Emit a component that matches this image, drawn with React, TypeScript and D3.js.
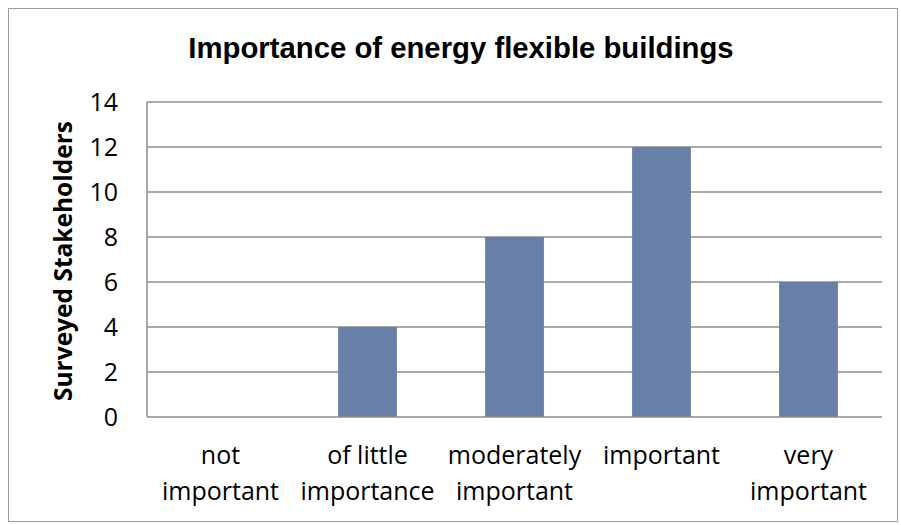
import React from "react";
import * as d3 from "d3";

const categories = ["not important", "of little importance", "moderately important", "important", "very important"];
const labelLines = [["not", "important"], ["of little", "importance"], ["moderately", "important"], ["important"], ["very", "important"]];
const counts = [0, 4, 8, 12, 6];
const yTicks = [0, 2, 4, 6, 8, 10, 12, 14];

const W = 901;
const H = 525;
const left = 147;
const right = 882;
const top = 102;
const bottom = 417;

export default function App() {
    const x = d3.scaleBand().domain(categories).range([left, right]).paddingInner(0.6).paddingOuter(0.3);
    const y = d3.scaleLinear().domain([0, 14]).range([bottom, top]);
    const tickFont = "'Open Sans', Lato, sans-serif";

    return (
        <svg width={W} height={H} style={{ position: "absolute", left: 0, top: 0, background: "#fff" }}>
            <rect x={8.5} y={8.5} width={889} height={513} fill="#fff" stroke="#9a9a9a" strokeWidth={1} />
            <text x={461} y={58} textAnchor="middle" fontFamily="'Liberation Sans', Arial, sans-serif" fontWeight="bold" fontSize={29.3} fill="#000">
                Importance of energy flexible buildings
            </text>
            {yTicks.map(t => (
                <g key={t}>
                    {t > 0 && <line x1={left} x2={right} y1={y(t)} y2={y(t)} stroke="#8c8c8c" strokeWidth={1.5} />}
                    <text x={118} y={y(t)} dy="0.36em" textAnchor="end" fontFamily={tickFont} fontSize={25} fill="#000">
                        {t}
                    </text>
                </g>
            ))}
            {categories.map((c, i) => (
                <rect key={c} x={x(c)} y={y(counts[i])} width={x.bandwidth()} height={bottom - y(counts[i])} fill="#687fa8" />
            ))}
            <line x1={left} x2={left} y1={top} y2={bottom} stroke="#8c8c8c" strokeWidth={1.5} />
            <line x1={left} x2={right} y1={bottom} y2={bottom} stroke="#8c8c8c" strokeWidth={1.5} />
            {categories.map((c, i) => (
                <text key={c} x={(x(c) as number) + x.bandwidth() / 2} textAnchor="middle" fontFamily={tickFont} fontSize={25} fill="#000">
                    {labelLines[i].map((l, j) => (
                        <tspan key={j} x={(x(c) as number) + x.bandwidth() / 2} y={464 + j * 36}>
                            {l}
                        </tspan>
                    ))}
                </text>
            ))}
            <text transform={`translate(72, 261) rotate(-90)`} textAnchor="middle" fontFamily={tickFont} fontWeight="bold" fontSize={24.5} fill="#000">
                Surveyed Stakeholders
            </text>
        </svg>
    );
}
